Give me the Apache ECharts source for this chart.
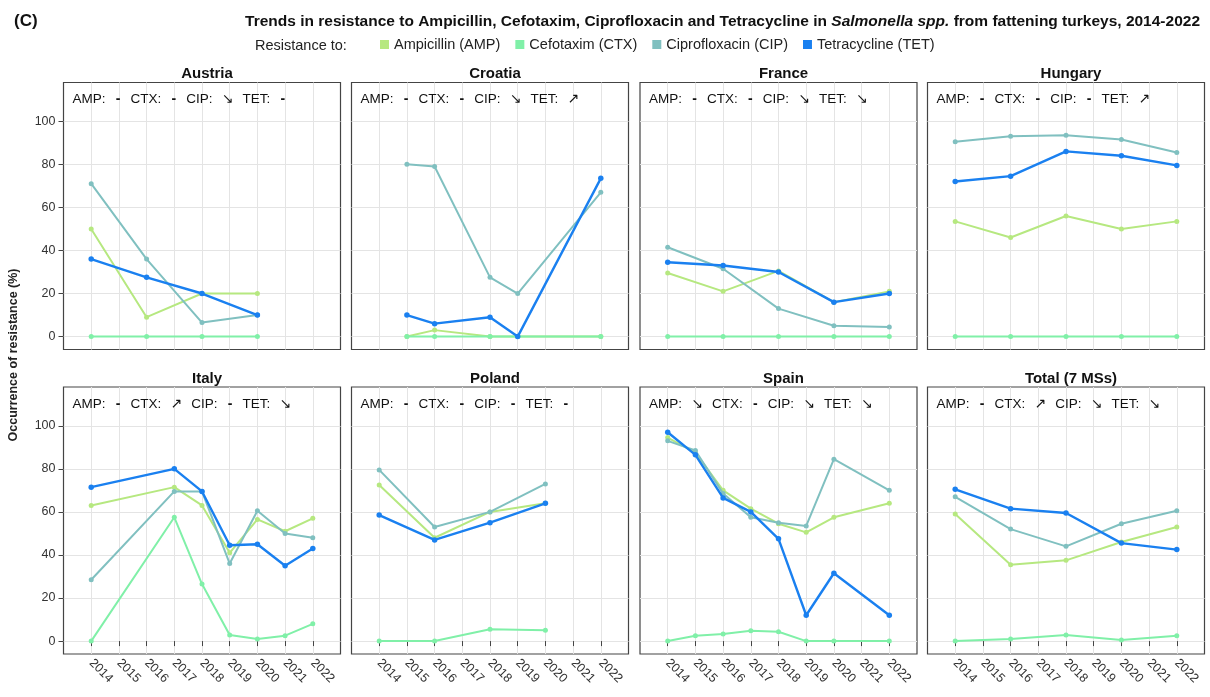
<!DOCTYPE html>
<html><head><meta charset="utf-8">
<script src="https://cdn.jsdelivr.net/npm/echarts@6/dist/echarts.min.js"></script>
<style>html,body{margin:0;padding:0;background:#fff}#c{width:1210px;height:697px}</style>
</head><body><div id="c"></div>
<script>
// ---------- DATA ----------
const countries = ['Austria','Croatia','France','Hungary','Italy','Poland','Spain','Total (7 MSs)'];
const seriesNames = ['Ampicillin (AMP)','Cefotaxim (CTX)','Ciprofloxacin (CIP)','Tetracycline (TET)'];
const yearLabels = [2014,2015,2016,2017,2018,2019,2020,2021,2022];
const yTickLabels = [0,20,40,60,80,100];

const yrsAustria = [2014,2016,2018,2020];
const ampAustria = [50,9,20,20];
const ctxAustria = [0,0,0,0];
const cipAustria = [71,36,6.5,10];
const tetAustria = [36,27.5,20,10];
const trendAustria = ['-','-','↘','-'];

const yrsCroatia = [2015,2016,2018,2019,2022];
const ampCroatia = [0,3,0,0,0];
const ctxCroatia = [0,0,0,0,0];
const cipCroatia = [80,79,27.5,20,67];
const tetCroatia = [10,6,9,0,73.5];
const trendCroatia = ['-','-','↘','↗'];

const yrsFrance = [2014,2016,2018,2020,2022];
const ampFrance = [29.5,21,30.5,16,21];
const ctxFrance = [0,0,0,0,0];
const cipFrance = [41.5,31.5,13,5,4.5];
const tetFrance = [34.5,33,30,16,20];
const trendFrance = ['-','-','↘','↘'];

const yrsHungary = [2014,2016,2018,2020,2022];
const ampHungary = [53.5,46,56,50,53.5];
const ctxHungary = [0,0,0,0,0];
const cipHungary = [90.5,93,93.5,91.5,85.5];
const tetHungary = [72,74.5,86,84,79.5];
const trendHungary = ['-','-','-','↗'];

const yrsItaly = [2014,2017,2018,2019,2020,2021,2022];
const ampItaly = [63,71.5,63,41,56.5,51,57];
const ctxItaly = [0,57.5,26.5,2.8,1,2.5,8];
const cipItaly = [28.5,69.5,69.5,36,60.5,50,48];
const tetItaly = [71.5,80,69.5,44.5,45,35,43];
const trendItaly = ['-','↗','-','↘'];

const yrsPoland = [2014,2016,2018,2020];
const ampPoland = [72.5,48,60,64];
const ctxPoland = [0,0,5.5,5];
const cipPoland = [79.5,53,60,73];
const tetPoland = [58.5,47,55,64];
const trendPoland = ['-','-','-','-'];

const yrsSpain = [2014,2015,2016,2017,2018,2019,2020,2022];
const ampSpain = [94.5,87.5,70,61.5,54.5,50.5,57.5,64];
const ctxSpain = [0,2.5,3.3,4.8,4.3,0,0,0];
const cipSpain = [93,88.5,68.5,57.5,55,53.5,84.5,70];
const tetSpain = [97,86.5,66.5,60,47.5,12,31.5,12];
const trendSpain = ['↘','-','↘','↘'];

const yrsTotal = [2014,2016,2018,2020,2022];
const ampTotal = [59,35.5,37.5,46,53];
const ctxTotal = [0,1,2.8,0.5,2.5];
const cipTotal = [67,52,44,54.5,60.5];
const tetTotal = [70.5,61.5,59.5,45.5,42.5];
const trendTotal = ['-','↗','↘','↘'];

// ---------- BUILD ----------
const panels = [
  [yrsAustria, ampAustria, ctxAustria, cipAustria, tetAustria, trendAustria],
  [yrsCroatia, ampCroatia, ctxCroatia, cipCroatia, tetCroatia, trendCroatia],
  [yrsFrance, ampFrance, ctxFrance, cipFrance, tetFrance, trendFrance],
  [yrsHungary, ampHungary, ctxHungary, cipHungary, tetHungary, trendHungary],
  [yrsItaly, ampItaly, ctxItaly, cipItaly, tetItaly, trendItaly],
  [yrsPoland, ampPoland, ctxPoland, cipPoland, tetPoland, trendPoland],
  [yrsSpain, ampSpain, ctxSpain, cipSpain, tetSpain, trendSpain],
  [yrsTotal, ampTotal, ctxTotal, cipTotal, tetTotal, trendTotal]
];
const colors = ['#b6e880','#80f0a8','#80c0c0','#1a80f0'];
const FONT = '"Liberation Sans", Arial, "DejaVu Sans", sans-serif';
const colLeft = [63.5, 351.5, 640, 927.5];
const rowTop = [82.5, 387];
const W = 277, H = 267;

const grids = [], xAxes = [], yAxes = [], series = [], titles = [], graphics = [];
const abbrs = ['AMP:','CTX:','CIP:','TET:'];

panels.forEach((p, i) => {
  const col = i % 4, row = Math.floor(i / 4);
  const L = colLeft[col], T = rowTop[row];
  const bottom = row === 1, first = col === 0;
  grids.push({left: L, top: T, width: W, height: H, show: true, borderColor: '#444', borderWidth: 1.2, backgroundColor: '#fff'});
  xAxes.push({
    gridIndex: i, type: 'value', min: 2013, max: 2023, interval: 1,
    axisLine: {show: false},
    axisTick: {show: bottom, length: 5, customValues: yearLabels, lineStyle: {color: '#444', width: 1}},
    axisLabel: {show: bottom, rotate: -45, margin: 7, customValues: yearLabels, color: '#333', fontSize: 12.5, fontFamily: FONT,
      formatter: v => (v >= 2014 && v <= 2022) ? String(v) : ''},
    splitLine: {show: true, lineStyle: {color: '#e4e4e4', width: 1}}
  });
  yAxes.push({
    gridIndex: i, type: 'value', min: -6, max: 118,
    axisLine: {show: false},
    axisTick: {show: first, length: 5, customValues: yTickLabels, lineStyle: {color: '#444', width: 1}},
    axisLabel: {show: first, margin: 8, customValues: yTickLabels, color: '#333', fontSize: 12.5, fontFamily: FONT,
      formatter: v => (v >= 0 && v <= 100 && v % 20 === 0) ? String(v) : ''},
    splitLine: {show: true, lineStyle: {color: '#e4e4e4', width: 1}}
  });
  const yrs = p[0];
  for (let s = 0; s < 4; s++) {
    const vals = p[s + 1];
    series.push({
      name: seriesNames[s], type: 'line', xAxisIndex: i, yAxisIndex: i,
      data: yrs.map((y, k) => [y, vals[k]]),
      symbol: 'circle', symbolSize: s === 3 ? 5.5 : 5,
      lineStyle: {color: colors[s], width: s === 3 ? 2.4 : 2},
      itemStyle: {color: colors[s]},
      z: 2 + s, silent: true
    });
  }
  titles.push({text: countries[i], left: L + W / 2, top: T - 21, textAlign: 'center',
    textStyle: {fontSize: 15, fontWeight: 'bold', color: '#111', fontFamily: FONT}});
  const tr = p[5];
  let txt = '';
  for (let k = 0; k < 4; k++) {
    txt += '{l|' + abbrs[k] + '}' + '{' + (tr[k] === '-' ? 'd' : 'a') + '|' + tr[k] + '}';
  }
  graphics.push({type: 'text', x: L + 9, y: T + 17, z: 10,
    style: {text: txt, verticalAlign: 'middle', fill: '#111',
      rich: {
        l: {fontSize: 13.5, fontFamily: FONT, fill: '#111'},
        d: {fontSize: 14, fontFamily: FONT, fontWeight: 'bold', fill: '#111', width: 25, align: 'center'},
        a: {fontSize: 14, fontFamily: '"DejaVu Sans", sans-serif', fill: '#111', width: 30, align: 'center'}
      }}});
});

titles.push({text: '(C)', left: 9, top: 8, textStyle: {fontSize: 17, fontWeight: 'bold', color: '#111', fontFamily: FONT}});
titles.push({
  text: '{b|Trends in resistance to Ampicillin, Cefotaxim, Ciprofloxacin and Tetracycline in }{i|Salmonella spp.}{b| from fattening turkeys, 2014-2022}',
  right: 5, top: 9,
  textStyle: {rich: {
    b: {fontSize: 15.5, fontWeight: 'bold', color: '#111', fontFamily: FONT},
    i: {fontSize: 15.5, fontWeight: 'bold', fontStyle: 'italic', color: '#111', fontFamily: FONT}
  }}
});

graphics.push({type: 'text', x: 255, y: 46, style: {text: 'Resistance to:', fontSize: 14.5, fontFamily: FONT, fill: '#222', verticalAlign: 'middle'}});
graphics.push({type: 'text', x: 14, y: 355, rotation: Math.PI / 2,
  style: {text: 'Occurrence of resistance (%)', fontSize: 12.5, fontWeight: 'bold', fontFamily: FONT, fill: '#222', align: 'center', verticalAlign: 'middle'}});

const option = {
  animation: false,
  backgroundColor: '#fff',
  textStyle: {fontFamily: FONT},
  title: titles,
  legend: {data: seriesNames, left: 375, top: 32, icon: 'rect', itemWidth: 9, itemHeight: 9, itemGap: 15, itemStyle: {borderWidth: 0},
    selectedMode: false, textStyle: {fontSize: 14.5, color: '#222', fontFamily: FONT}},
  grid: grids, xAxis: xAxes, yAxis: yAxes, series: series, graphic: graphics
};
const chart = echarts.init(document.getElementById('c'), null, {renderer: 'canvas'});
chart.setOption(option);
</script>
</body></html>
